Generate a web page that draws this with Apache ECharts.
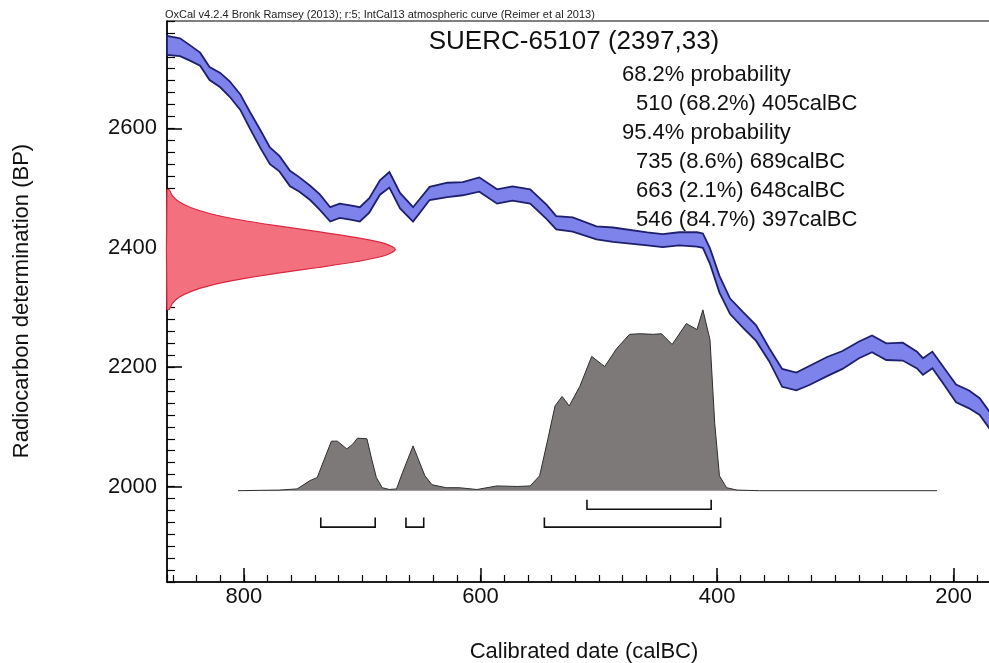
<!DOCTYPE html>
<html>
<head>
<meta charset="utf-8">
<script src="https://cdn.jsdelivr.net/npm/echarts@6/dist/echarts.min.js"></script>
<style>
  html, body { margin: 0; padding: 0; background: #fff; }
  #container { width: 989px; height: 663px; }
</style>
</head>
<body>
<div id="container"></div>
<script>
// calibration curve (IntCal13)
var calYear = [865, 854, 846, 837, 829, 820, 812, 803, 795, 786,
               778, 770, 761, 753, 744, 736, 727, 719, 710, 702,
               694, 685, 677, 668, 657, 643, 628, 615, 601, 586,
               573, 558, 544, 536, 522, 502, 488, 459, 446, 432,
               417, 412, 406, 398, 389, 378, 367, 356, 345, 333,
               322, 307, 294, 280, 269, 257, 243, 231, 226, 218,
               209, 198, 187, 178, 170, 160];
var curveBP = [2739, 2736, 2727, 2716, 2692, 2681, 2666, 2644, 2614, 2582,
               2554, 2541, 2516, 2506, 2492, 2477, 2456, 2462, 2459, 2456,
               2471, 2501, 2514, 2479, 2456, 2491, 2497, 2499, 2506, 2486,
               2491, 2486, 2460, 2442, 2439, 2425, 2422, 2415, 2412, 2415,
               2414, 2412, 2386, 2339, 2302, 2279, 2257, 2221, 2182, 2176,
               2186, 2201, 2212, 2229, 2239, 2226, 2226, 2212, 2201, 2212,
               2187, 2156, 2146, 2134, 2112, 2095];
var curveErr = [16, 15, 13, 11, 11, 12, 13, 13, 14, 15,
                14, 13, 13, 12, 12, 13, 12, 12, 12, 12,
                12, 12, 13, 13, 12, 11, 12, 11, 12, 12,
                12, 12, 12, 11, 12, 11, 12, 11, 11, 11,
                12, 12, 13, 14, 13, 13, 13, 11, 15, 15,
                16, 16, 15, 14, 14, 14, 15, 14, 14, 14,
                14, 15, 15, 14, 14, 14];

// measurement 2397 +/- 33 (red, on the BP axis)
var measBP = [2297, 2307, 2317, 2327, 2337, 2347, 2357, 2367, 2377, 2387, 2397,
              2407, 2417, 2427, 2437, 2447, 2457, 2467, 2477, 2487, 2497];
var measDensity = [0.01, 0.024, 0.053, 0.106, 0.191, 0.317, 0.479, 0.662, 0.832, 0.955, 1,
                   0.955, 0.832, 0.662, 0.479, 0.317, 0.191, 0.106, 0.053, 0.024, 0.01];

// calibrated probability (grey)
var probYear = [805, 770, 755, 744, 738, 732, 726, 721, 713, 708,
                704, 696, 692, 688, 683, 677, 671, 666, 657, 653,
                647, 641, 629, 618, 603, 586, 569, 558, 550, 543,
                537, 531, 525, 516, 506, 495, 485, 474, 465, 454,
                447, 438, 426, 417, 412, 406, 402, 398, 392, 383,
                364, 214];
var probHeight = [0, 1, 3, 17, 22, 53, 83, 83, 70, 78,
                  88, 87, 53, 22, 5, 2, 3, 30, 75, 55,
                  25, 10, 5, 5, 2, 8, 7, 8, 25, 87,
                  142, 158, 142, 175, 225, 208, 238, 262, 263, 262,
                  263, 245, 280, 270, 303, 253, 113, 25, 5, 1,
                  0, 0];

// ranges
var range68 = [[510, 405]];
var range95 = [[735, 689], [663, 648], [546, 397]];

var xMajor = [200, 400, 600, 800];
var yMajor = [2000, 2200, 2400, 2600];

var headerText = 'OxCal v4.2.4 Bronk Ramsey (2013); r:5; IntCal13 atmospheric curve (Reimer et al 2013)';
var titleText = 'SUERC-65107 (2397,33)';
var probLines = [
    ['68.2% probability', 0],
    ['510 (68.2%) 405calBC', 1],
    ['95.4% probability', 0],
    ['735 (8.6%) 689calBC', 1],
    ['663 (2.1%) 648calBC', 1],
    ['546 (84.7%) 397calBC', 1]
];

var FONT = '"Liberation Sans", Arial, Helvetica, sans-serif';
var X_MIN = 160, X_MAX = 865;
var probBase = 1993;
var redWidth = 193;

var dom = document.getElementById('container');
var myChart = echarts.init(dom, null, { renderer: 'canvas' });

var bandData = calYear.map(function (y, i) { return [y, curveBP[i]]; });
var measData = measBP.map(function (b, i) { return [X_MAX - redWidth * measDensity[i], b]; });
var probData = probYear.map(function (y, i) { return [y, probBase + probHeight[i]]; });
var rangeData = range68.map(function (r) { return [r[0], r[1], 0]; })
    .concat(range95.map(function (r) { return [r[0], r[1], 1]; }));

var graphics = [{
    type: 'text', x: 165, y: 15, z: 100,
    style: { text: headerText, fill: '#222', font: '11px ' + FONT, verticalAlign: 'middle' }
}, {
    type: 'text', x: 574, y: 42, z: 100,
    style: { text: titleText, fill: '#111', font: '26px ' + FONT, align: 'center', verticalAlign: 'middle' }
}, {
    type: 'text', x: 22, y: 301, z: 100, rotation: Math.PI / 2,
    style: { text: 'Radiocarbon determination (BP)', fill: '#111', font: '22px ' + FONT, align: 'center', verticalAlign: 'middle' }
}, {
    type: 'text', x: 584, y: 652, z: 100,
    style: { text: 'Calibrated date (calBC)', fill: '#111', font: '22px ' + FONT, align: 'center', verticalAlign: 'middle' }
}];
probLines.forEach(function (l, i) {
    graphics.push({
        type: 'text', x: l[1] ? 636 : 622, y: 75 + i * 29, z: 100,
        style: { text: l[0], fill: '#111', font: '22px ' + FONT, verticalAlign: 'middle' }
    });
});

var axisLineStyle = { color: '#000', width: 1.5 };

option = {
    animation: false,
    backgroundColor: '#fff',
    grid: {
        left: 167, width: 834, top: 21, bottom: 81, outerBoundsMode: 'none', containLabel: false,
        show: true, borderColor: '#000', borderWidth: 1.2
    },
    xAxis: [{
        type: 'value', min: X_MIN, max: X_MAX, interval: 20, inverse: true,
        axisLine: { show: true, lineStyle: axisLineStyle },
        axisTick: { show: true, inside: true, length: 7, lineStyle: { color: '#000', width: 1.2 } },
        axisLabel: {
            margin: 4, fontSize: 22, color: '#111', fontFamily: FONT,
            formatter: function (v) { return xMajor.indexOf(v) >= 0 ? String(v) : ''; }
        },
        splitLine: { show: false }
    }, {
        type: 'value', min: X_MIN, max: X_MAX, inverse: true, position: 'bottom',
        axisLine: { show: false },
        axisTick: { show: true, inside: true, length: 14, customValues: xMajor, lineStyle: { color: '#000', width: 1.5 } },
        axisLabel: { show: false },
        splitLine: { show: false }
    }],
    yAxis: [{
        type: 'value', min: 1840, max: 2780, interval: 20,
        axisLine: { show: true, lineStyle: axisLineStyle },
        axisTick: { show: true, inside: true, length: 8, lineStyle: { color: '#000', width: 1.2 } },
        axisLabel: {
            margin: 10, fontSize: 22, color: '#111', fontFamily: FONT,
            formatter: function (v) { return yMajor.indexOf(v) >= 0 ? String(v) : ''; }
        },
        splitLine: { show: false }
    }, {
        type: 'value', min: 1840, max: 2780, position: 'left',
        axisLine: { show: false },
        axisTick: { show: true, inside: true, length: 15, customValues: yMajor, lineStyle: { color: '#000', width: 1.5 } },
        axisLabel: { show: false },
        splitLine: { show: false }
    }],
    graphic: graphics,
    series: [{
        // calibration curve band
        type: 'custom', xAxisIndex: 0, yAxisIndex: 0, z: 2, silent: true,
        data: bandData,
        renderItem: function (params, api) {
            if (params.dataIndex !== 0) return null;
            var pts = [];
            for (var i = 0; i < calYear.length; i++) pts.push(api.coord([calYear[i], curveBP[i] + curveErr[i]]));
            for (var j = calYear.length - 1; j >= 0; j--) pts.push(api.coord([calYear[j], curveBP[j] - curveErr[j]]));
            return {
                type: 'polygon', shape: { points: pts },
                style: { fill: '#7d83ea', stroke: '#1e1f6e', lineWidth: 1.8 }
            };
        }
    }, {
        // measurement
        type: 'custom', xAxisIndex: 0, yAxisIndex: 0, z: 3, silent: true,
        data: measData,
        renderItem: function (params, api) {
            if (params.dataIndex !== 0) return null;
            var pts = [api.coord([X_MAX, measBP[0]])];
            for (var i = 0; i < measBP.length; i++) pts.push(api.coord([X_MAX - redWidth * measDensity[i], measBP[i]]));
            pts.push(api.coord([X_MAX, measBP[measBP.length - 1]]));
            return {
                type: 'polygon', shape: { points: pts, smooth: 0.3 },
                style: { fill: '#f3707f', stroke: '#d62a40', lineWidth: 1.2 }
            };
        }
    }, {
        // calibrated distribution
        type: 'line', xAxisIndex: 0, yAxisIndex: 0, z: 3, silent: true,
        data: probData, symbol: 'none',
        lineStyle: { color: '#2e2e2e', width: 1 },
        areaStyle: { color: '#7e7979', opacity: 1, origin: probBase }
    }, {
        // ranges
        type: 'custom', xAxisIndex: 0, yAxisIndex: 0, z: 4, silent: true,
        data: rangeData,
        renderItem: function (params, api) {
            var lvl = [1962, 1932][api.value(2)];
            var top = lvl + 16;
            var a = api.value(0), b = api.value(1);
            return {
                type: 'polyline',
                shape: { points: [api.coord([a, top]), api.coord([a, lvl]), api.coord([b, lvl]), api.coord([b, top])] },
                style: { stroke: '#111', lineWidth: 1.6, fill: null }
            };
        }
    }]
};

if (option && typeof option === "object") {
    myChart.setOption(option, true);
}
</script>
</body>
</html>
